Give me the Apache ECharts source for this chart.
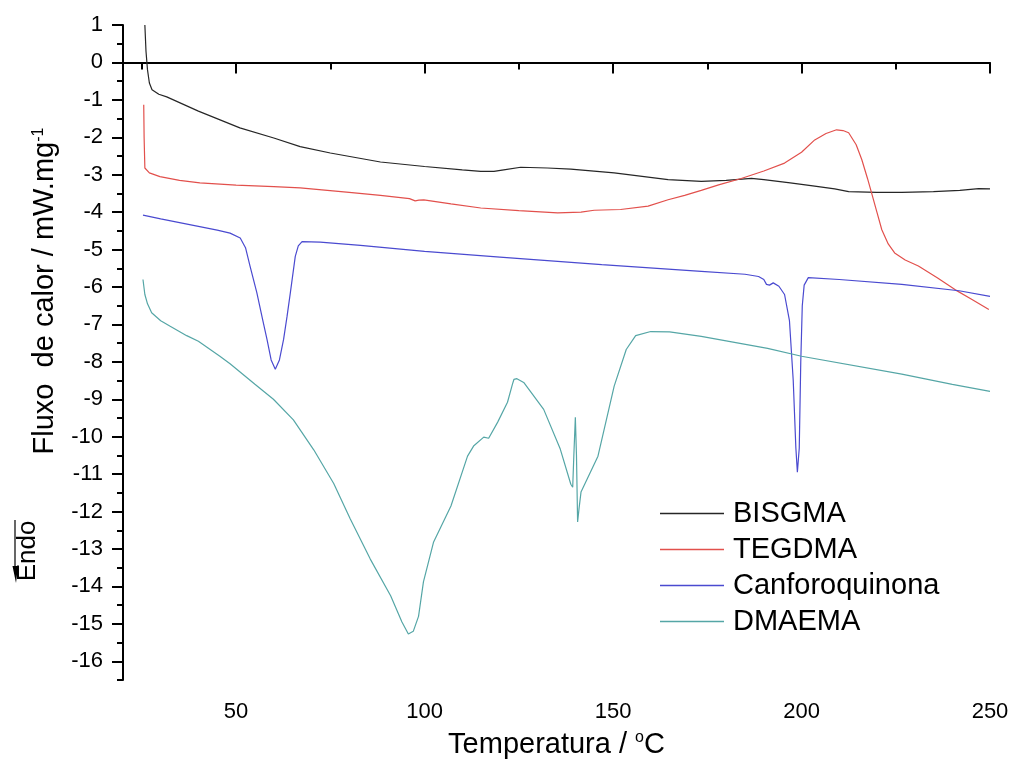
<!DOCTYPE html>
<html>
<head>
    <meta charset="utf-8">
    <script src="https://cdn.jsdelivr.net/npm/echarts@6/dist/echarts.min.js"></script>
</head>
<body style="margin:0">
<div id="main" style="width:1014px;height:760px"></div>
<script type="text/javascript">
    // DSC curves (temperature in C, heat flow in mW/mg)
    var names = ['BISGMA', 'TEGDMA', 'Canforoquinona', 'DMAEMA'];
    var colors = ['#262626', '#e2504c', '#4a4ad0', '#55a6a6'];

    var tBis = [25.8, 26.1, 26.5, 27.0, 27.7, 29.5, 31.6, 40, 51, 60, 67, 75, 88.3, 100, 110, 114.9, 118.4, 121, 125.5, 132.6, 138.8, 150.3, 164.6, 173.4, 180, 186.7, 190, 197, 203, 208.8, 212.5, 220, 226.6, 235, 242, 247, 250];
    var yBis = [1.0, 0.3, -0.2, -0.55, -0.73, -0.85, -0.92, -1.3, -1.75, -2.02, -2.25, -2.42, -2.66, -2.78, -2.87, -2.91, -2.91, -2.87, -2.8, -2.82, -2.85, -2.95, -3.13, -3.18, -3.15, -3.1, -3.13, -3.22, -3.3, -3.38, -3.45, -3.47, -3.47, -3.45, -3.42, -3.37, -3.38];

    var tTeg = [25.5, 25.6, 25.8, 27, 29.8, 35, 40.4, 50, 60, 67, 80, 88.3, 96, 97.5, 98.5, 99.8, 107, 114.9, 125, 135.3, 141.5, 145, 152, 159.3, 164.6, 169, 173.4, 178, 184, 190, 195.5, 200, 203.5, 206.5, 209.3, 211, 212.5, 214.5, 216, 217.5, 218.6, 220, 221.3, 223, 224.7, 227.5, 231, 236, 240.7, 245, 249.7];
    var yTeg = [-1.13, -2.0, -2.82, -2.95, -3.05, -3.15, -3.22, -3.28, -3.32, -3.35, -3.47, -3.55, -3.64, -3.7, -3.68, -3.67, -3.78, -3.89, -3.96, -4.02, -4.0, -3.95, -3.93, -3.84, -3.67, -3.55, -3.42, -3.27, -3.1, -2.9, -2.69, -2.4, -2.07, -1.9, -1.8, -1.82, -1.88, -2.2, -2.6, -3.1, -3.49, -4.0, -4.47, -4.85, -5.09, -5.28, -5.44, -5.75, -6.07, -6.32, -6.6];

    var tCq = [25.3, 30, 35, 40, 45, 48.4, 51.1, 52.5, 53.7, 55.5, 57, 58.2, 59.3, 60.4, 61.5, 62.6, 63.5, 64.4, 65.7, 66.5, 67.5, 72.3, 83, 100, 120, 147, 173.4, 185, 188.6, 190, 190.7, 191.5, 192.5, 194, 195.5, 196.8, 197.8, 198.5, 198.9, 199.4, 199.8, 200.2, 200.7, 201.8, 210, 226.6, 241.8, 250];
    var yCq = [-4.08, -4.18, -4.28, -4.38, -4.48, -4.56, -4.69, -4.95, -5.44, -6.15, -6.85, -7.4, -7.95, -8.2, -7.95, -7.4, -6.8, -6.15, -5.18, -4.9, -4.79, -4.8, -4.89, -5.05, -5.2, -5.4, -5.58, -5.66, -5.72, -5.8, -5.93, -5.95, -5.89, -5.98, -6.2, -6.9, -8.5, -10.3, -10.95, -10.3, -8, -6.5, -5.95, -5.75, -5.8, -5.93, -6.1, -6.25];

    var tDm = [25.3, 25.8, 26.5, 27.6, 30, 32.4, 36.9, 40, 45.7, 48.4, 55, 59.9, 65.2, 70.6, 75.9, 80.3, 85.6, 91, 94, 95.7, 97, 98.4, 99.7, 102.4, 107, 111.4, 113, 115.7, 117, 119.4, 122, 123.3, 123.7, 124.5, 126.3, 131.6, 136, 138.8, 139.3, 139.6, 140.0, 140.3, 140.6, 141.0, 141.5, 146, 150.3, 153.5, 156, 160, 165, 173.4, 191, 200, 226.6, 240, 250];
    var yDm = [-5.8, -6.2, -6.45, -6.69, -6.9, -7.04, -7.3, -7.45, -7.85, -8.05, -8.6, -9.0, -9.55, -10.35, -11.25, -12.2, -13.27, -14.25, -14.95, -15.27, -15.2, -14.8, -13.88, -12.81, -11.85, -10.52, -10.25, -10.01, -10.04, -9.61, -9.08, -8.6, -8.47, -8.45, -8.55, -9.27, -10.33, -11.27, -11.35, -10.5, -9.48, -10.5, -12.28, -11.9, -11.48, -10.52, -8.65, -7.67, -7.3, -7.19, -7.2, -7.32, -7.64, -7.85, -8.33, -8.6, -8.79];

    var xMajor = [50, 100, 150, 200, 250];
    var xMinor = [25, 75, 125, 175, 225];
    var yMajor = [];
    var yMinor = [];
    for (var v = -16; v <= 1; v++) yMajor.push(v);
    for (var m = -16.5; m < 1; m++) yMinor.push(m);

    function pairs(t, y) {
        return t.map(function (x, i) { return [x, y[i]]; });
    }
    var curves = [pairs(tBis, yBis), pairs(tTeg, yTeg), pairs(tCq, yCq), pairs(tDm, yDm)];

    var font = 'Liberation Sans, Arial, sans-serif';
    var titleRich = {
        a: { fontSize: 29, fontFamily: font, color: '#000' },
        s: { fontSize: 16, fontFamily: font, color: '#000', verticalAlign: 'top' }
    };
    var myChart = echarts.init(document.getElementById('main'));

    var option = {
        animation: false,
        backgroundColor: '#fff',
        textStyle: { fontFamily: font, color: '#000' },
        grid: { left: 123, right: 24, top: 25, bottom: 80, containLabel: false, outerBoundsMode: 'none' },
        legend: {
            orient: 'vertical',
            left: 655,
            top: 494,
            data: names,
            icon: 'rect',
            itemWidth: 64,
            itemHeight: 1.5,
            itemGap: 7,
            textStyle: { fontSize: 29, fontFamily: font, color: '#000', padding: [0, 0, 0, 4] }
        },
        xAxis: [{
            type: 'value', min: 20, max: 250, position: 'bottom',
            name: '{a|Temperatura / }{s|o}{a|C}',
            nameLocation: 'middle', nameGap: 50,
            nameTextStyle: { rich: titleRich },
            axisLine: { lineStyle: { color: '#000', width: 2 } },
            axisTick: { customValues: xMajor, length: 11, lineStyle: { color: '#000', width: 2 } },
            axisLabel: { customValues: xMajor, fontSize: 22, color: '#000', margin: 21, fontFamily: font },
            splitLine: { show: false }
        }, {
            type: 'value', min: 20, max: 250, position: 'bottom',
            axisLine: { show: false },
            axisTick: { customValues: xMinor, length: 7, lineStyle: { color: '#000', width: 2 } },
            axisLabel: { show: false },
            splitLine: { show: false }
        }],
        yAxis: [{
            type: 'value', min: -16.5, max: 1, position: 'left',
            axisLine: { show: true, lineStyle: { color: '#000', width: 2 } },
            axisTick: { show: true, customValues: yMajor, length: 11, lineStyle: { color: '#000', width: 2 } },
            axisLabel: { customValues: yMajor, fontSize: 22, color: '#000', margin: 20, fontFamily: font },
            splitLine: { show: false }
        }, {
            type: 'value', min: -16.5, max: 1, position: 'left',
            axisLine: { show: false },
            axisTick: { show: true, customValues: yMinor, length: 6, lineStyle: { color: '#000', width: 2 } },
            axisLabel: { show: false },
            splitLine: { show: false }
        }],
        graphic: [
            {
                type: 'text', x: 45, y: 291, rotation: Math.PI / 2,
                style: { text: '{a|Fluxo  de calor / mW.mg}{s|-1}', rich: titleRich, align: 'center', verticalAlign: 'middle' }
            },
            {
                type: 'text', x: 28, y: 551, rotation: Math.PI / 2,
                style: { text: 'Endo', font: '26px ' + font, fill: '#000', align: 'center', verticalAlign: 'middle' }
            },
            { type: 'line', shape: { x1: 15, y1: 520, x2: 15, y2: 568 }, style: { stroke: '#000', lineWidth: 1.2 } },
            { type: 'polygon', shape: { points: [[12.5, 566], [18, 566], [16, 583]] }, style: { fill: '#000' } }
        ],
        series: names.map(function (n, i) {
            return {
                name: n, type: 'line', data: curves[i],
                xAxisIndex: 0, yAxisIndex: 0,
                showSymbol: false, symbol: 'none',
                color: colors[i],
                lineStyle: { width: 1.2, color: colors[i] }
            };
        })
    };

    myChart.setOption(option);
</script>
</body>
</html>
